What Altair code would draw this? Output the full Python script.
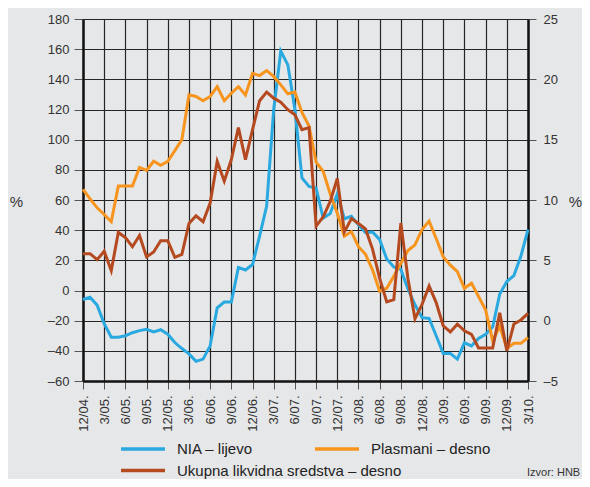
import altair as alt
import pandas as pd

# Monthly categories 12/04. ... 3/10.
months = [f"{(11 + i) % 12 + 1}/{(4 + (11 + i) // 12):02d}." for i in range(64)]
tick_labels = ["12/04.", "3/05.", "6/05.", "9/05.", "12/05.", "3/06.", "6/06.", "9/06.",
               "12/06.", "3/07.", "6/07.", "9/07.", "12/07.", "3/08.", "6/08.", "9/08.",
               "12/08.", "3/09.", "6/09.", "9/09.", "12/09.", "3/10."]
left_ticks = [-60, -40, -20, 0, 20, 40, 60, 80, 100, 120, 140, 160, 180]
right_ticks = [-5, 0, 5, 10, 15, 20, 25]

# NIA - left axis
nia = [-6, -4.5, -9.7, -22, -31, -31, -30, -28, -26.6, -25.7, -27.5, -26, -29, -34.5, -38.5, -42,
       -47, -45.5, -36.7, -11.5, -7.7, -7.7, 15.3, 13.6, 17.2, 36, 56, 120, 158.8, 149.6, 120, 74.7,
       69, 68, 48, 51, 64, 47.6, 49.2, 43.5, 38.3, 38.8, 33.7, 20.9, 15.6, 14, 1, -9.5,
       -18, -18.5, -30, -41.7, -41.7, -45.5, -34.7, -36.7, -31.8, -29, -24.2, -2.3, 6, 9.9, 22.9, 40.3]
# Plasmani - right axis
plasmani = [10.88, 10.1, 9.35, 8.8, 8.2, 11.15, 11.15, 11.15, 12.7, 12.46, 13.21, 12.88, 13.21, 14.09, 15.0, 18.71,
            18.58, 18.23, 18.58, 19.4, 18.23, 18.85, 19.4, 18.71, 20.5, 20.31, 20.73, 20.24, 19.54, 18.8, 18.94, 17.25,
            16.13, 13.13, 12.38, 10.5, 8.9, 7.0, 7.38, 6.13, 5.5, 4.19, 2.44, 2.69, 3.69, 4.75, 5.81, 6.28,
            7.56, 8.25, 6.81, 5.29, 4.6, 4.06, 2.68, 3.11, 2.0, 0.88, -1.68, -0.46, -2.3, -1.88, -1.88, -1.4]
# Ukupna likvidna sredstva - right axis
ukupna = [5.55, 5.55, 5.05, 5.75, 4.15, 7.31, 6.88, 6.13, 7.06, 5.28, 5.69, 6.63, 6.63, 5.25, 5.5, 8.06,
          8.69, 8.2, 9.75, 13.19, 11.56, 13.35, 16.0, 13.35, 15.83, 18.23, 18.94, 18.44, 18.11, 17.48, 17.06, 15.83,
          16.0, 7.84, 8.6, 9.88, 11.78, 7.35, 8.46, 8.05, 7.6, 5.91, 3.5, 1.55, 1.74, 8.08, 3.5, 0.16,
          1.35, 2.88, 1.5, -0.44, -0.94, -0.29, -0.84, -1.14, -2.26, -2.26, -2.26, 0.65, -2.5, -0.28, 0.06, 0.61]

source_note = ["Izvor: HNB"]

NIA = "NIA – lijevo"
PLA = "Plasmani – desno"
UKU = "Ukupna likvidna sredstva – desno"

BLUE = "#29a9e0"
ORANGE = "#f7941d"
RED = "#b5491f"
BG = "#e6e7e8"
GRID = "#262626"
FONT = "Liberation Sans"

df_nia = pd.DataFrame({"month": months, "value": nia, "series": NIA})
df_pla = pd.DataFrame({"month": months, "value": plasmani, "series": PLA})
df_uku = pd.DataFrame({"month": months, "value": ukupna, "series": UKU})
df_note = pd.DataFrame({"note": source_note})

neg_expr = "datum.value < 0 ? '–' + abs(datum.value) : datum.label"

x_enc = alt.X(
    "month:O",
    scale=alt.Scale(type="point", domain=months, padding=0),
    axis=alt.Axis(values=tick_labels, labelAngle=270, labelAlign="right", labelBaseline="middle",
                  grid=True, gridColor=GRID, gridWidth=1.2, tickSize=8, tickColor="#555",
                  labelPadding=6, domainColor="#111", domainWidth=2.5, title=None,
                  labelFontSize=13, labelColor="#333", labelFont=FONT),
)

left_axis = alt.Axis(values=left_ticks, title="%", titleAngle=0, titleX=-67, titleY=182,
                     titleAlign="center", titleBaseline="middle", titleFontSize=15,
                     titleFontWeight="normal", titleColor="#333", titleFont=FONT,
                     grid=True, gridColor=GRID, gridWidth=1.2, tickSize=9, tickColor="#555",
                     labelPadding=5, domainColor="#111", domainWidth=2.5, labelFontSize=13,
                     labelColor="#333", labelFont=FONT, labelExpr=neg_expr)
right_axis = alt.Axis(values=right_ticks, orient="right", title="%", titleAngle=0, titleX=47,
                      titleY=182, titleAlign="center", titleBaseline="middle", titleFontSize=15,
                      titleFontWeight="normal", titleColor="#333", titleFont=FONT,
                      grid=False, tickSize=8, tickColor="#555", labelPadding=7,
                      domainColor="#111", domainWidth=2.5, labelFontSize=13, labelColor="#333",
                      labelFont=FONT, labelExpr=neg_expr)

legend_common = dict(orient="none", direction="vertical", title=None,
                     symbolType="M-3.14,0H3.14", symbolSize=196, symbolStrokeWidth=3.5,
                     labelOffset=25, labelFontSize=15, labelColor="#222", labelFont=FONT,
                     labelLimit=0, rowPadding=4.5, padding=0, legendY=421)

color_enc = alt.Color("series:N", scale=alt.Scale(domain=[NIA, UKU], range=[BLUE, RED]),
                      legend=alt.Legend(legendX=51, **legend_common))
stroke_enc = alt.Stroke("series:N", scale=alt.Scale(domain=[PLA], range=[ORANGE]),
                        legend=alt.Legend(legendX=245, **legend_common))

left_scale = alt.Scale(domain=[-60, 180], nice=False, zero=False)
right_scale = alt.Scale(domain=[-5, 25], nice=False, zero=False)

blue_line = alt.Chart(df_nia).mark_line(strokeWidth=3).encode(
    x=x_enc, y=alt.Y("value:Q", scale=left_scale, axis=left_axis), color=color_enc)
orange_line = alt.Chart(df_pla).mark_line(strokeWidth=3).encode(
    x=x_enc, y=alt.Y("value:Q", scale=right_scale, axis=right_axis), stroke=stroke_enc)
red_line = alt.Chart(df_uku).mark_line(strokeWidth=3).encode(
    x=x_enc, y=alt.Y("value:Q", scale=right_scale, axis=right_axis), color=color_enc)

note = alt.Chart(df_note).mark_text(align="left", baseline="bottom", fontSize=11,
                                    color="#333", font=FONT).encode(
    x=alt.value(444), y=alt.value(459), text="note:N")

right_layer = alt.layer(orange_line, red_line)

chart = alt.layer(blue_line, right_layer, note).resolve_scale(y="independent").properties(
    width=445, height=362,
    padding={"left": 75, "top": 11, "right": 54, "bottom": 98},
    autosize=alt.AutoSizeParams(type="none"),
).configure(background=BG).configure_view(stroke=None, fill=BG)

chart.save("out.html", embed_options={"renderer": "svg", "actions": False})
